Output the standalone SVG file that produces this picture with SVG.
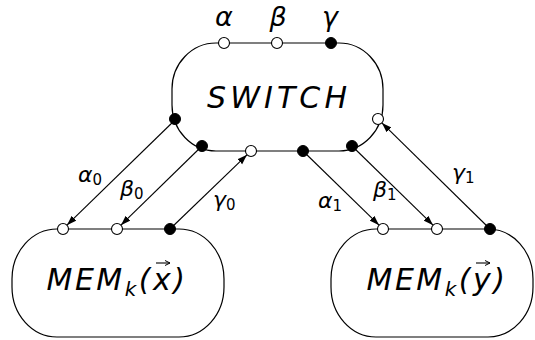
<svg xmlns="http://www.w3.org/2000/svg" width="535" height="340" viewBox="0 0 535 340">
<style>
.shape{fill:none;stroke:#000;stroke-width:1.2}
.edge{stroke:#000;stroke-width:1.1;fill:none}
.open{fill:#fff;stroke:#000;stroke-width:1.1}
.full{fill:#000;stroke:#000;stroke-width:1}
text{font-family:"DejaVu Sans","Liberation Sans",sans-serif;font-style:italic;fill:#000}
.big{font-size:30px}
.top{font-size:27px}
.lab{font-size:22px}
.sub{font-style:normal;font-size:15px}
.vec{stroke:#000;stroke-width:1.1;fill:none}
</style>
<defs>
<marker id="arr" markerUnits="userSpaceOnUse" markerWidth="10" markerHeight="8" refX="10" refY="4" orient="auto">
<path d="M0,0.6 L10,4 L0,7.4 z" fill="#000"/>
</marker>
<marker id="vec" markerUnits="userSpaceOnUse" markerWidth="6" markerHeight="6" refX="5" refY="3" orient="auto">
<path d="M0,0.5 L5,3 L0,5.5" fill="none" stroke="#000" stroke-width="1"/>
</marker>
</defs>
<g id="connectors">
<line class="edge" x1="176" y1="119" x2="66.9" y2="225.2" marker-end="url(#arr)"/>
<line class="edge" x1="202" y1="146" x2="120.9" y2="225.2" marker-end="url(#arr)"/>
<line class="edge" x1="170" y1="229" x2="247" y2="154.8" marker-end="url(#arr)"/>
<line class="edge" x1="303" y1="151" x2="379.1" y2="225.2" marker-end="url(#arr)"/>
<line class="edge" x1="352" y1="146" x2="433.1" y2="225.2" marker-end="url(#arr)"/>
<line class="edge" x1="490" y1="229" x2="381.9" y2="122.9" marker-end="url(#arr)"/>
<text class="lab" x="78" y="182">α<tspan class="sub" dy="3">0</tspan></text>
<text class="lab" x="120" y="196">β<tspan class="sub" dy="3">0</tspan></text>
<text class="lab" x="213" y="207">γ<tspan class="sub" dy="3">0</tspan></text>
<text class="lab" x="318" y="208">α<tspan class="sub" dy="3">1</tspan></text>
<text class="lab" x="373" y="197">β<tspan class="sub" dy="3">1</tspan></text>
<text class="lab" x="452" y="180">γ<tspan class="sub" dy="3">1</tspan></text>
</g>
<g id="switch">
<rect class="shape" x="172" y="43" width="211" height="108" rx="44" ry="46"/>
<text class="big" x="277" y="108" text-anchor="middle" textLength="140" lengthAdjust="spacing">SWITCH</text>
<text class="top" x="224" y="26" text-anchor="middle">α</text>
<text class="top" x="278" y="26" text-anchor="middle">β</text>
<text class="top" x="330" y="26" text-anchor="middle">γ</text>
<circle class="open" cx="224" cy="43" r="5.5"/>
<circle class="open" cx="277" cy="43" r="5.5"/>
<circle class="full" cx="331" cy="43" r="5.5"/>
<circle class="full" cx="175" cy="119" r="5.5"/>
<circle class="full" cx="202" cy="146" r="5.5"/>
<circle class="open" cx="251" cy="151" r="5.5"/>
<circle class="full" cx="303" cy="151" r="5.5"/>
<circle class="full" cx="352" cy="146" r="5.5"/>
<circle class="open" cx="378" cy="119" r="5.5"/>
</g>
<g id="mem_x">
<rect class="shape" x="12" y="229" width="212" height="108" rx="45" ry="50"/>
<text class="big" x="117" y="290" text-anchor="middle" letter-spacing="2.5">MEM<tspan font-size="20" dy="6">k</tspan><tspan dy="-6">(x)</tspan></text>
<line class="vec" x1="156" y1="263" x2="170" y2="263" marker-end="url(#vec)"/>
<circle class="open" cx="63" cy="229" r="5.5"/>
<circle class="open" cx="117" cy="229" r="5.5"/>
<circle class="full" cx="170" cy="229" r="5.5"/>
</g>
<g id="mem_y">
<rect class="shape" x="331" y="229" width="202" height="108" rx="45" ry="50"/>
<text class="big" x="437" y="290" text-anchor="middle" letter-spacing="2.5">MEM<tspan font-size="20" dy="6">k</tspan><tspan dy="-6">(y)</tspan></text>
<line class="vec" x1="476" y1="263" x2="490" y2="263" marker-end="url(#vec)"/>
<circle class="open" cx="383" cy="229" r="5.5"/>
<circle class="open" cx="437" cy="229" r="5.5"/>
<circle class="full" cx="490" cy="229" r="5.5"/>
</g>
</svg>
